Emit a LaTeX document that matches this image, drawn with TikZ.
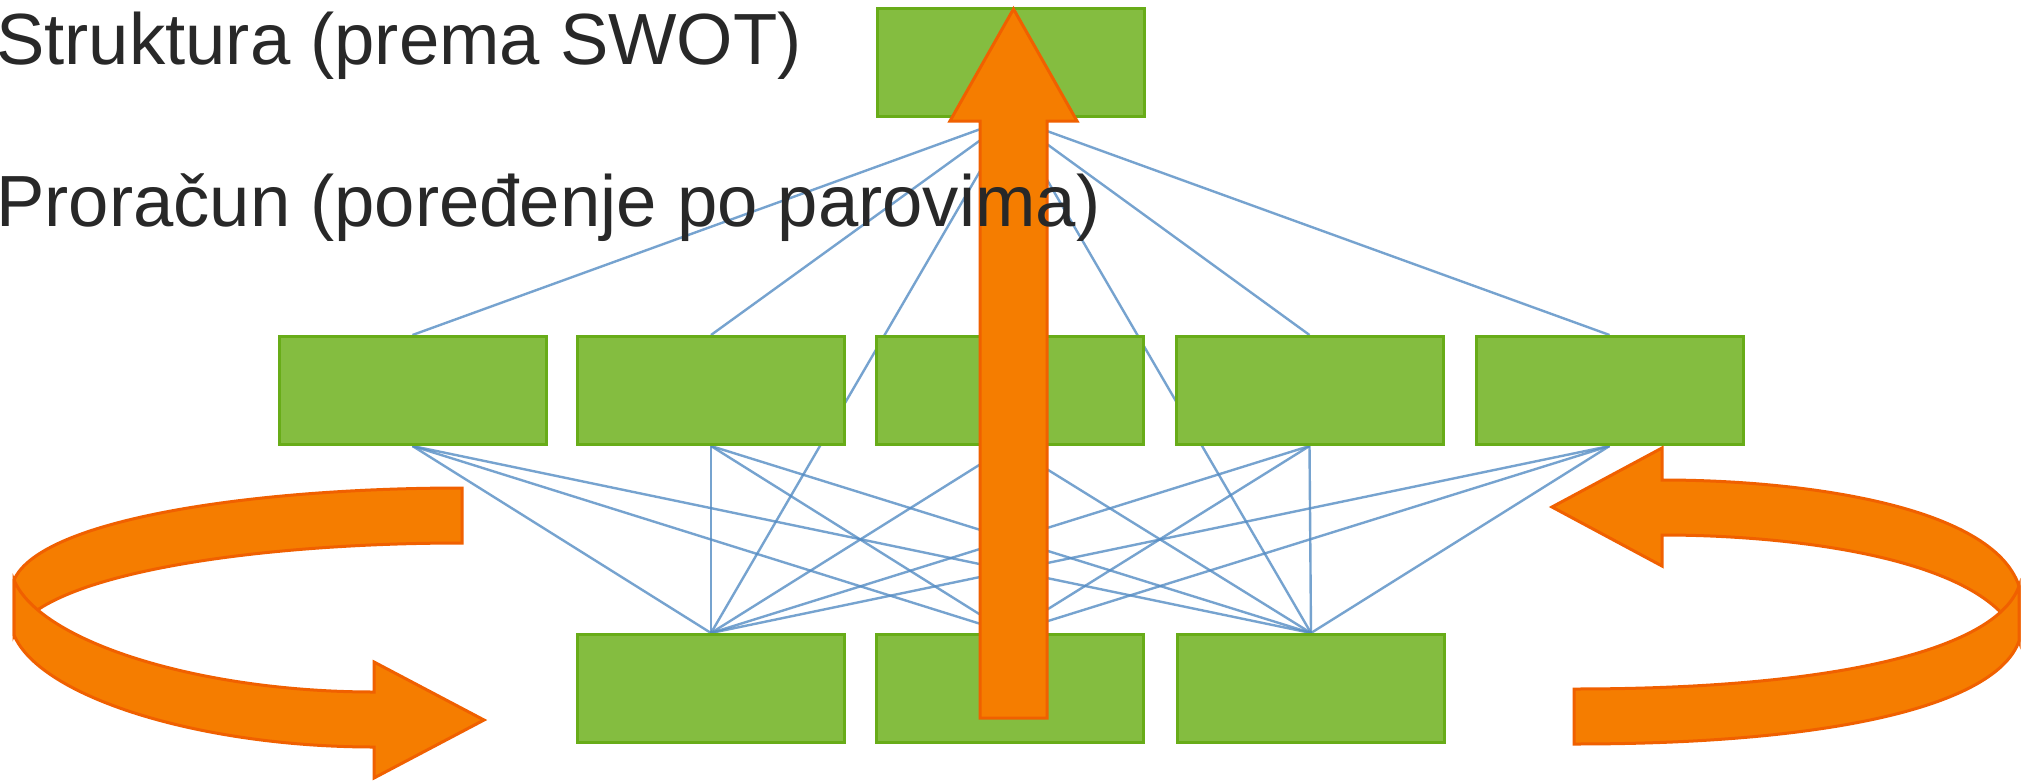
\documentclass[tikz,border=0pt]{standalone}
\usepackage{fontspec}
\setmainfont{Liberation Sans}
\definecolor{boxfill}{RGB}{132,189,64}
\definecolor{boxline}{RGB}{104,172,24}
\definecolor{linkblue}{RGB}{84,140,196}
\definecolor{orfill}{RGB}{245,125,0}
\definecolor{orline}{RGB}{240,96,0}
\definecolor{textgray}{RGB}{40,40,40}
\begin{document}
\begin{tikzpicture}[x=1pt,y=-1pt,
  box/.style={draw=boxline, fill=boxfill, line width=3pt, minimum width=267pt, minimum height=108pt, inner sep=0pt, outer sep=0pt},
  link/.style={draw=linkblue, line width=2.4pt, draw opacity=0.8},
  orshape/.style={fill=orfill, draw=orline, line width=3pt, line join=miter},
  lbl/.style={text=textgray, font=\fontsize{72.5}{87}\selectfont, inner sep=0pt, anchor=base west}]
\useasboundingbox (0,0) rectangle (2023,784);
\fill[white] (0,0) rectangle (2023,784);

% box positions
\coordinate (cT) at (1011,62.5);
\coordinate (cM1) at (412.5,390.5);
\coordinate (cM2) at (711,390.5);
\coordinate (cM3) at (1009.5,390.5);
\coordinate (cM4) at (1309.5,390.5);
\coordinate (cM5) at (1609.5,390.5);
\coordinate (cB1) at (711,688.5);
\coordinate (cB2) at (1009.5,688.5);
\coordinate (cB3) at (1311,688.5);

% invisible anchors so that links can be drawn behind the boxes
\foreach \n in {T,M1,M2,M3,M4,M5,B1,B2,B3}
  \path (c\n) node[minimum width=270pt, minimum height=111pt, inner sep=0pt, outer sep=0pt] (\n) {};

% links
\foreach \m in {M1,M2,M3,M4,M5}
  \draw[link] (T.south) -- (\m.north);
\foreach \b in {B1,B2,B3}
  \draw[link] (T.south) -- (\b.north);
\foreach \m in {M1,M2,M3,M4,M5}
  \foreach \b in {B1,B2,B3}
    \draw[link] (\m.south) -- (\b.north);

% boxes
\foreach \n in {T,M1,M2,M3,M4,M5,B1,B2,B3}
  \path (c\n) node[box] (box\n) {};

% left curved arrow: back band, then front band with head
\draw[orshape] (462,488) .. controls (250,488) and (40,520) .. (14,580)
  -- (14,635) .. controls (40,575) and (250,543) .. (462,543) -- cycle;
\draw[orshape] (14,580) .. controls (40,642) and (200,692) .. (374,692)
  -- (374,662) -- (484,720) -- (374,778) -- (374,747)
  .. controls (200,747) and (40,697) .. (14,635) -- cycle;

% right curved arrow: band with head, then lower band
\draw[orshape] (1662,480) .. controls (1800,480) and (1992,505) .. (2019,586)
  -- (2019,641) .. controls (1992,560) and (1800,535) .. (1662,535)
  -- (1662,566) -- (1552,507) -- (1662,448) -- cycle;
\draw[orshape] (2019,586) .. controls (1998,646) and (1850,689) .. (1574,689)
  -- (1574,744) .. controls (1850,744) and (1998,701) .. (2019,641) -- cycle;

% vertical arrow
\draw[orshape] (980,718) -- (980,121) -- (950,121) -- (1013.5,9)
  -- (1077,121) -- (1047,121) -- (1047,718) -- cycle;

% texts
\node[lbl] (t1) at (-4,64) {Struktura (prema SWOT)};
\node[lbl] (t2) at (-4,226) {Proračun (poređenje po parovima)};
\end{tikzpicture}
\end{document}
